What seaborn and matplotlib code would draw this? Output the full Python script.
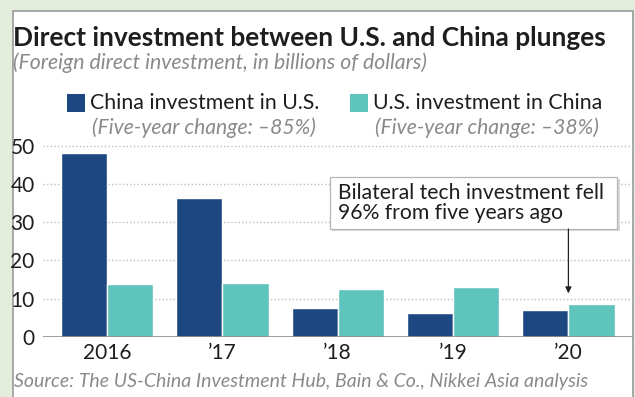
import matplotlib
matplotlib.use("Agg")
import matplotlib.pyplot as plt
from matplotlib.patches import Rectangle
import seaborn as sns
import pandas as pd

# Foreign direct investment, billions of dollars
years = ["2016", "\u201917", "\u201918", "\u201919", "\u201920"]
china_in_us = [48.0, 36.4, 7.5, 6.2, 7.0]
us_in_china = [13.8, 14.0, 12.5, 13.0, 8.6]
series_names = ["China investment in U.S.", "U.S. investment in China"]
series_notes = ["(Five-year change: \u201385%)", "(Five-year change: \u201338%)"]
y_ticks = [0, 10, 20, 30, 40, 50]

NAVY = "#1d4781"
TEAL = "#5fc3be"
TEXT = "#1e1e1e"
GREY_TEXT = "#8a8a8a"
BG = "#e3eddb"

sns.set_theme(style="white")
plt.rcParams["font.family"] = ["Lato", "DejaVu Sans"]

df = pd.DataFrame({
    "year": years * 2,
    "value": china_in_us + us_in_china,
    "series": [series_names[0]] * len(years) + [series_names[1]] * len(years),
})

fig = plt.figure(figsize=(6.35, 3.97), dpi=100, facecolor=BG)
W, H = 635, 397

# white card with grey top/left border
card = Rectangle((13 / W, -0.05), (633 - 13) / W, (H - 11) / H + 0.05,
                 transform=fig.transFigure, facecolor="white",
                 edgecolor="#9a9a9a", linewidth=1.2, zorder=-10)
fig.patches.append(card)

ax = fig.add_axes([43 / W, 1 - 337 / H, (633 - 43) / W, (337 - 143.6) / H])
ax.set_facecolor("none")

sns.barplot(data=df, x="year", y="value", hue="series",
            palette=[NAVY, TEAL], width=0.8, saturation=1,
            ax=ax, legend=False, zorder=3)

ax.set_xlim(-0.555, 4.56)
ax.set_ylim(0, 50.5)
ax.set_yticks(y_ticks)
ax.set_yticklabels([str(v) for v in y_ticks])
ax.set_xlabel("")
ax.set_ylabel("")

for v in y_ticks[1:]:
    ax.axhline(v, color="#c4bcbc", linewidth=1.0, linestyle=(0, (1, 1.6)), zorder=1)
ax.axhline(0, color="#8c8c8c", linewidth=1.2, zorder=4)

for s in ax.spines.values():
    s.set_visible(False)

ax.tick_params(axis="y", length=0, pad=6, labelsize=15, labelcolor=TEXT)
ax.tick_params(axis="x", length=3, width=1.6, color="#222222", direction="inout",
               pad=3, labelsize=15, labelcolor=TEXT)
for lab in ax.get_yticklabels():
    lab.set_horizontalalignment("right")

# annotation box with shadow and arrow
bx0, bx1 = (330 - 107) / 115.3, (617 - 107) / 115.3
by0, by1 = (337 - 229) / 3.83, (337 - 177) / 3.83
ax.add_patch(Rectangle((bx0 + 0.02, by0 - 0.6), bx1 - bx0, by1 - by0,
                       facecolor="#d8d8d8", edgecolor="none", zorder=5))
ax.add_patch(Rectangle((bx0, by0), bx1 - bx0, by1 - by0,
                       facecolor="white", edgecolor="#b5b5b5", linewidth=0.9, zorder=6))
ax.text((338 - 107) / 115.3, (by0 + by1) / 2,
        "Bilateral tech investment fell\n96% from five years ago",
        ha="left", va="center", fontsize=15.2, color=TEXT,
        linespacing=1.05, zorder=7)
ax.annotate("", xy=(4.0, 11.4), xytext=(4.0, by0),
            arrowprops=dict(arrowstyle="-|>", color="#222222", lw=0.9,
                            mutation_scale=9, shrinkA=0, shrinkB=0),
            zorder=7)

# title block
fig.text(13 / W, 1 - 38 / H, "Direct investment between U.S. and China plunges",
         fontsize=18.9, fontweight="bold", color=TEXT, ha="left", va="center")
fig.text(13 / W, 1 - 63 / H, "(Foreign direct investment, in billions of dollars)",
         fontsize=15.3, fontstyle="italic", color=GREY_TEXT, ha="left", va="center")

# legend
legend_x = [67, 350]
for i, (name, note, col) in enumerate(zip(series_names, series_notes, [NAVY, TEAL])):
    x0 = legend_x[i]
    fig.patches.append(Rectangle((x0 / W, 1 - 112 / H), 18 / W, 18 / H,
                                 transform=fig.transFigure, facecolor=col,
                                 edgecolor="none", zorder=2))
    fig.text((x0 + 23) / W, 1 - 103 / H, name, fontsize=15.3, color=TEXT,
             ha="left", va="center")
    fig.text((x0 + 25) / W, 1 - 128 / H, note, fontsize=15.2, fontstyle="italic",
             color=GREY_TEXT, ha="left", va="center")

fig.text(14 / W, 1 - 381 / H,
         "Source: The US-China Investment Hub, Bain & Co., Nikkei Asia analysis",
         fontsize=14, fontstyle="italic", color=GREY_TEXT, ha="left", va="center")

fig.savefig("out.png", dpi=100, facecolor=BG)
